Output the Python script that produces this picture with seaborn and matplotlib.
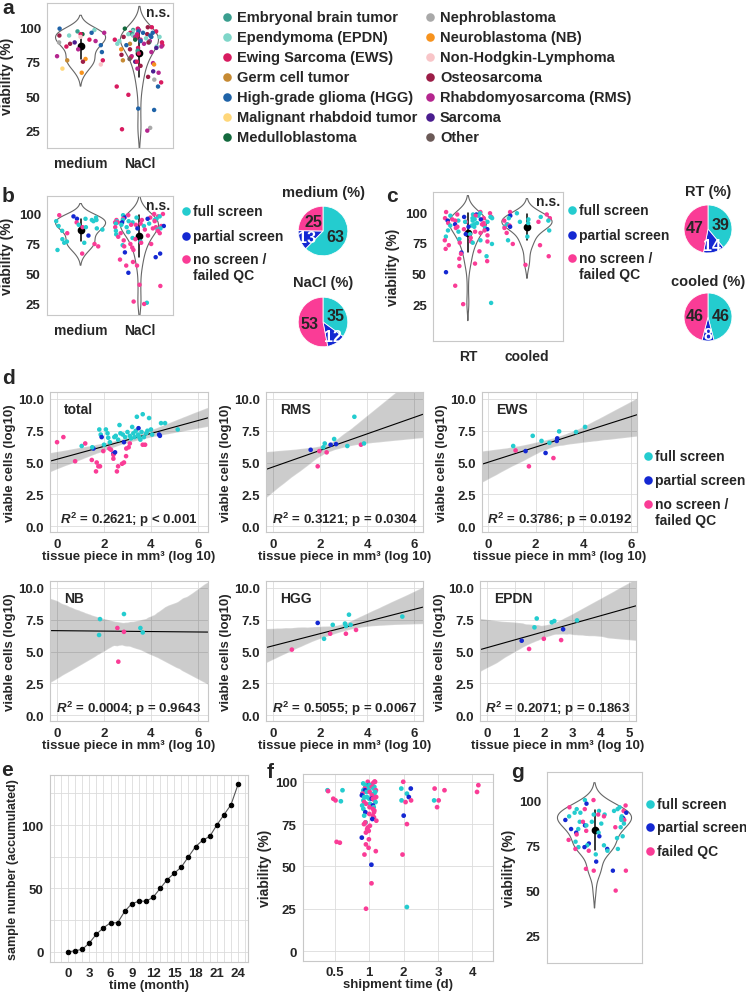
import numpy as np
import pandas as pd
import matplotlib.pyplot as plt
import matplotlib.ticker as mtick
import seaborn as sns

# ─── Data ─────────────────────────────────────────────────────────────────────
tumor_names = ["Embryonal brain tumor", "Ependymoma (EPDN)", "Ewing Sarcoma (EWS)",
               "Germ cell tumor", "High-grade glioma (HGG)", "Malignant rhabdoid tumor",
               "Medulloblastoma", "Nephroblastoma", "Neuroblastoma (NB)",
               "Non-Hodgkin-Lymphoma", "Osteosarcoma", "Rhabdomyosarcoma (RMS)",
               "Sarcoma", "Other"]
tumor_codes = ["EBT", "EPDN", "EWS", "GCT", "HGG", "MRT", "MB",
               "NEPH", "NB", "NHL", "OS", "RMS", "SARC", "OTH"]
tumor_cols = ["#3a9e8f", "#7fd6c9", "#d81b60", "#c68a33", "#1f63a8", "#ffd77a", "#13693d",
              "#a9a9a9", "#f7931e", "#f8c5c8", "#9c1d47", "#b5268f", "#4a1d8f", "#6b5a57"]

# a / b: storage medium
medium_viab = [99, 98, 97, 96, 96, 95, 95, 94, 94, 93,
               91, 90, 89, 89, 88, 87, 86, 84, 82, 79,
               77, 76, 76, 75, 73, 70, 67]
medium_status = "NPFPFFFFFN" "FFNFFFFNPF" "FFFNNFN"
medium_tumor = ["HGG", "EPDN", "EBT", "HGG", "RMS", "MB", "EWS", "OS", "EPDN", "NHL",
                "EWS", "RMS", "SARC", "NEPH", "OS", "HGG", "EWS", "RMS", "HGG", "RMS",
                "NB", "EWS", "GCT", "OS", "NHL", "MRT", "NB"]
nacl_viab = [100, 100, 99, 99, 98, 98, 97, 97, 97, 96,
             96, 96, 95, 95, 95, 95, 94, 94, 94, 93,
             93, 93, 93, 92, 92, 92, 91, 91, 91, 90,
             90, 90, 89, 89, 89, 88, 88, 88, 87, 87,
             86, 86, 85, 85, 84, 84, 83, 82, 81, 80,
             79, 78, 77, 76, 75, 75, 74, 73, 72, 70,
             68, 67, 64, 62, 60, 57, 57, 51, 41, 40,
             27, 26, 25]
nacl_status = ("NNNFNFPFNF" "NPFNFNFNFN" "FNPFNFNFNF" "NPFNNFPNFN"
               "NFNFNNFNNF" "NNFNNNFNNN" "PPPNNNNPNN" "NFN")
nacl_tumor = ["EWS", "OS", "EWS", "MB", "RMS", "EBT", "HGG", "EPDN", "EWS", "HGG",
              "EWS", "HGG", "EPDN", "RMS", "EBT", "OS", "EPDN", "EWS", "HGG", "RMS",
              "EPDN", "OS", "HGG", "EBT", "EWS", "EPDN", "RMS", "MB", "EWS", "EPDN",
              "RMS", "HGG", "EBT", "EWS", "OS", "EPDN", "GCT", "RMS", "HGG", "EWS",
              "RMS", "EPDN", "EWS", "SARC", "NB", "OS", "EBT", "RMS", "EWS", "OS",
              "RMS", "EWS", "OTH", "GCT", "SARC", "EWS", "RMS", "NB", "OS", "RMS",
              "SARC", "RMS", "OS", "NEPH", "EWS", "EWS", "HGG", "EWS", "HGG", "HGG",
              "NEPH", "EWS", "RMS"]
pie_medium = [63, 13, 25]
pie_nacl = [35, 12, 53]

# c: transport temperature
rt_viab = [100, 100, 99, 99, 98, 98, 98, 97, 97, 97,
           96, 96, 96, 95, 95, 95, 95, 94, 94, 94,
           93, 93, 93, 93, 92, 92, 92, 91, 91, 91,
           90, 90, 90, 89, 89, 89, 88, 88, 88, 87,
           87, 86, 86, 85, 85, 84, 84, 83, 82, 82,
           81, 80, 79, 78, 77, 77, 76, 76, 75, 75,
           74, 73, 70, 68, 67, 66, 64, 62, 60, 58,
           56, 51, 40, 26, 25]
rt_status = ("NNFNFNPFNF" "NFPFNFNFPN" "FNFPFNFNFN" "FPNFNFNPFN"
             "FNPNFNFNFP" "NFNFNFNNFN" "FNNNPNFNNN" "NPNFN")
cooled_viab = [100, 99, 98, 97, 96, 95, 95, 94, 93, 93,
               92, 92, 91, 90, 90, 89, 88, 88, 87, 85,
               83, 80, 77, 74, 73, 64, 57]
cooled_status = "NFNPFFNFNF" "FNFNFNPFNF" "NFFNNNN"
pie_rt = [39, 14, 47]
pie_cooled = [46, 8, 46]

# d: tissue size vs viable cells
total_x = [0.0, 0.27, 0.77, 1.05, 1.2, 1.48, 1.55, 1.66, 1.69, 1.76,
           1.8, 1.83, 1.86, 1.9, 1.97, 2.08, 2.18, 2.23, 2.25, 2.4,
           2.4, 2.4, 2.44, 2.47, 2.5, 2.55, 2.6, 2.6, 2.66, 2.7,
           2.77, 2.8, 2.85, 2.85, 2.9, 2.94, 3.0, 3.05, 3.1, 3.15,
           3.2, 3.25, 3.3, 3.35, 3.4, 3.45, 3.47, 3.5, 3.55, 3.6,
           3.65, 3.65, 3.7, 3.75, 3.8, 3.85, 3.92, 4.0, 4.05, 4.35,
           4.38, 4.43, 4.6, 5.14, 2.0, 2.3, 2.15, 3.1, 2.95, 1.5]
total_y = [6.6, 7.0, 5.1, 6.3, 6.5, 5.2, 6.1, 4.3, 5.0, 4.7,
           7.6, 4.7, 7.2, 7.0, 5.9, 7.6, 6.95, 6.1, 6.6, 5.7,
           5.6, 5.3, 7.0, 5.8, 7.1, 4.3, 4.7, 6.8, 7.95, 7.3,
           4.9, 7.2, 5.0, 6.6, 7.0, 5.5, 7.4, 6.2, 7.1, 6.9,
           7.8, 7.3, 7.0, 7.5, 8.6, 7.2, 7.7, 7.0, 6.8, 7.4,
           8.8, 6.4, 7.0, 6.4, 7.3, 7.5, 8.5, 7.6, 7.2, 7.2,
           7.1, 8.1, 8.1, 7.6, 6.4, 6.0, 7.3, 6.5, 6.1, 6.2]
total_s = "NNNFNNPNNN" "FNFPNFFNFP" "NNFPFNNFFF" "NFNPFNFNFF" "FFFFFFPFFF" "FNFNFFFFFP" "PFFFFNFNNF"
rms_x = [1.6, 1.9, 1.97, 2.14, 2.2, 2.28, 2.45, 2.6, 2.68, 3.16, 3.46, 3.74, 3.87]
rms_y = [6.0, 4.7, 5.9, 6.2, 6.5, 5.8, 6.4, 6.85, 6.45, 6.3, 8.6, 6.4, 6.5]
rms_s = "PNNFFNPFPFFNF"
ews_x = [1.06, 1.16, 1.58, 1.72, 1.88, 2.25, 2.42, 2.58, 2.75, 2.89, 2.91, 2.99, 3.7, 4.08]
ews_y = [6.3, 5.95, 5.9, 4.7, 7.1, 6.7, 5.75, 6.55, 5.35, 6.7, 6.9, 7.45, 7.4, 7.8]
ews_s = "FNPNFFPFNPPFFF"
nb_x = [1.83, 1.79, 2.57, 2.61, 2.85, 2.85, 3.55, 3.65]
nb_y = [7.55, 6.3, 6.85, 4.2, 7.95, 6.55, 6.85, 6.5]
nb_s = "FFNNFNFF"
hgg_x = [0.8, 1.9, 2.17, 2.43, 2.54, 3.06, 3.1, 3.1, 3.23, 3.3, 3.53, 5.5]
hgg_y = [5.15, 7.25, 6.0, 6.4, 7.1, 7.2, 7.0, 6.4, 7.9, 7.1, 6.7, 7.75]
hgg_s = "NPFNFFFNFFNF"
epdn_x = [1.22, 1.48, 1.67, 1.75, 2.0, 2.28, 2.37, 2.61, 2.68, 3.17]
epdn_y = [5.85, 5.2, 6.9, 7.6, 6.0, 7.3, 7.4, 5.9, 6.75, 7.45]
epdn_s = "PNFFNFFNPF"
d_names = ["total", "RMS", "EWS", "NB", "HGG", "EPDN"]
d_r2 = ["0.2621", "0.3121", "0.3786", "0.0004", "0.5055", "0.2071"]
d_p = ["p < 0.001", "p = 0.0304", "p = 0.0192", "p = 0.9643", "p = 0.0067", "p = 0.1863"]

# e: accumulated samples
e_month = list(range(25))
e_samples = [0, 1, 2, 7, 14, 19, 23, 23, 32, 38, 40, 40, 43, 50, 57, 62, 67, 75, 83, 88,
             91, 100, 108, 116, 132]

# f: shipment time
ship_cats = ["0.5", "1", "2", "3", "4"]
f05_viab = [95, 95, 94.5, 90, 89, 88.5, 64, 64.5]
f05_s = "FFNNNFNN"
f1_viab = [100, 100, 100, 100, 99, 99, 98, 98, 98, 97,
           97, 97, 96, 96, 96, 95, 95, 95, 95, 94,
           94, 94, 93, 93, 93, 92, 92, 92, 91, 91,
           91, 90, 90, 90, 89, 89, 88, 88, 87, 87,
           86, 86, 85, 85, 84, 84, 83, 82, 82, 81,
           80, 80, 79, 78, 77, 76, 76, 75, 74, 73,
           72, 71, 70, 67, 66, 63, 61, 59, 57, 51,
           40, 25]
f1_s = ("NNNNNFFPFF" "FNFFNFFPNF" "FNFFNFPNFF" "NFPNFNFNFN"
        "PFNFNFNPNN" "FNNPNFNNNN" "NNNPNNNNNP" "NN")
f2_viab = [100, 96, 96, 93, 91, 89, 89, 88, 80, 75, 57, 26]
f2_s = "NPFFPFNNPNNF"
f3_viab = [96, 95, 89, 89, 85]
f3_s = "NNNFN"
f4_viab = [98, 94]
f4_s = "NN"

# g: viability overall
g_viab = [100, 100, 98, 97, 96, 96, 95, 95, 95, 94,
          94, 94, 93, 93, 93, 92, 92, 92, 91, 91,
          91, 90, 90, 90, 89, 89, 89, 88, 88, 88,
          87, 87, 86, 86, 85, 85, 84, 84, 83, 82,
          82, 81, 80, 80, 79, 78, 77, 76, 75, 75,
          74, 74, 73, 73, 73, 72, 72, 70, 66, 62,
          61, 61, 61, 50]
g_s = ("NFPNNFFFNF" "FNPFFFNFFN" "FFPFNPFFNF" "FFPFFNPFNP"
       "FNPFFNFPFF" "FPNFPNFFPN" "NNPN")

# ─── Style ────────────────────────────────────────────────────────────────────
W, H = 746, 995
FULL, PART, NOSC = "#24CCCF", "#1428D2", "#FA3C96"
status_pal = {"F": FULL, "P": PART, "N": NOSC}
tumor_pal = dict(zip(tumor_codes, tumor_cols))

sns.set_theme(style="white")
plt.rcParams["font.family"] = ["Liberation Sans", "DejaVu Sans"]
plt.rcParams["font.weight"] = "bold"
plt.rcParams["axes.labelweight"] = "bold"
plt.rcParams["mathtext.fontset"] = "custom"
plt.rcParams["mathtext.it"] = "Liberation Sans:italic:bold"
plt.rcParams["mathtext.rm"] = "Liberation Sans:bold"
plt.rcParams["mathtext.bf"] = "Liberation Sans:bold"
np.random.seed(7)

fig = plt.figure(figsize=(W / 100, H / 100), dpi=100)


def px_axes(l, t, r, b):
    return fig.add_axes([l / W, 1 - b / H, (r - l) / W, (b - t) / H])


def frame(ax, tick_fs=9):
    for s in ax.spines.values():
        s.set_color("#c8c8c8")
        s.set_linewidth(0.8)
    ax.tick_params(axis="both", length=2.5, width=0.6, color="#555555", labelsize=tick_fs, pad=2)


def violin_panel(ax, df, x, order, hue, pal, ylim, xlim):
    sns.violinplot(data=df, x=x, y="viab", order=order, fill=False, inner=None,
                   color="#666666", linewidth=0.8, width=0.85, ax=ax)
    sns.stripplot(data=df, x=x, y="viab", order=order, hue=hue, palette=pal,
                  jitter=0.42, size=3.2, linewidth=0, legend=False, ax=ax)
    sns.pointplot(data=df, x=x, y="viab", order=order, errorbar="sd", color="black",
                  linestyle="none", markersize=3.5, err_kws={"linewidth": 1.1}, ax=ax)
    ax.set_xlim(*xlim)
    ax.set_ylim(*ylim)
    ax.set_yticks([25, 50, 75, 100])
    ax.set_xlabel("")
    ax.set_ylabel("viability (%)", fontsize=10, labelpad=3)
    frame(ax, tick_fs=9.5)
    ax.tick_params(axis="x", length=0, labelsize=10, pad=6)
    ax.text(0.98, 0.985, "n.s.", transform=ax.transAxes, ha="right", va="top", fontsize=10)


ov = fig.add_axes([0, 0, 1, 1], zorder=10)
ov.set_xlim(0, W)
ov.set_ylim(H, 0)
ov.axis("off")


def status_legend(x, ys, labels):
    for yy, lab, col in zip(ys, labels, [FULL, PART, NOSC]):
        ov.scatter([x], [yy], s=38, color=col, linewidth=0)
        ov.text(x + 7, yy - 7, lab, ha="left", va="top", fontsize=10, linespacing=1.15)


def pie(cx, cy, r, vals, title, title_y):
    ax = px_axes(cx - r, cy - r, cx + r, cy + r)
    wedges, texts = ax.pie(vals, colors=[FULL, PART, NOSC], startangle=90, counterclock=False,
                           labels=[str(v) for v in vals], labeldistance=0.55,
                           wedgeprops={"edgecolor": "white", "linewidth": 0.6},
                           textprops={"fontsize": 11.5, "fontweight": "bold", "ha": "center",
                                      "va": "center"})
    # small blue slice: push its number further out so it sits inside the wedge
    bx, by = texts[1].get_position()
    texts[1].set_position((bx * 1.3, by * 1.3))
    texts[1].set_color("white")
    ov.text(cx, title_y, title, ha="center", va="center", fontsize=10.5)


# ─── a ────────────────────────────────────────────────────────────────────────
df_ab = pd.DataFrame({
    "cond": ["medium"] * len(medium_viab) + ["NaCl"] * len(nacl_viab),
    "viab": medium_viab + nacl_viab,
    "tumor": medium_tumor + nacl_tumor,
    "status": list(medium_status) + list(nacl_status),
})
ax = px_axes(47, 4, 173, 149)
violin_panel(ax, df_ab, "cond", ["medium", "NaCl"], "tumor", tumor_pal, (12.4, 117.6), (-0.57, 1.57))

for i, (name, col) in enumerate(zip(tumor_names, tumor_cols)):
    cx = 227 if i < 7 else 430
    cy = 18 + 20 * (i % 7)
    ov.scatter([cx], [cy], s=38, color=col, linewidth=0)
    ov.text(cx + 10, cy, name, ha="left", va="center", fontsize=10.5)

# ─── b ────────────────────────────────────────────────────────────────────────
ax = px_axes(47, 197, 173, 316)
violin_panel(ax, df_ab, "cond", ["medium", "NaCl"], "status", status_pal, (15.8, 115), (-0.57, 1.57))
labels3 = ["full screen", "partial screen", "no screen /\nfailed QC"]
status_legend(186, [212, 237, 260], labels3)
pie(323, 232, 31, pie_medium, "medium (%)", 193)
pie(323, 323, 31, pie_nacl, "NaCl (%)", 283)

# ─── c ────────────────────────────────────────────────────────────────────────
df_c = pd.DataFrame({
    "temp": ["RT"] * len(rt_viab) + ["cooled"] * len(cooled_viab),
    "viab": rt_viab + cooled_viab,
    "status": list(rt_status) + list(cooled_status),
})
ax = px_axes(433, 193, 563, 342)
violin_panel(ax, df_c, "temp", ["RT", "cooled"], "status", status_pal, (-5, 116.3), (-0.59, 1.61))
status_legend(572, [211, 236, 259], labels3)
pie(708, 230, 30, pie_rt, "RT (%)", 192)
pie(708, 318, 30, pie_cooled, "cooled (%)", 282)

# ─── d ────────────────────────────────────────────────────────────────────────
d_data = [(total_x, total_y, total_s), (rms_x, rms_y, rms_s), (ews_x, ews_y, ews_s),
          (nb_x, nb_y, nb_s), (hgg_x, hgg_y, hgg_s), (epdn_x, epdn_y, epdn_s)]
d_boxes = [(50, 393, 208, 533), (266, 393, 423, 533), (482, 393, 637, 533),
           (50, 582, 208, 722), (266, 582, 423, 722), (480, 582, 636, 722)]
d_xlims = [(-0.3, 6.43), (-0.3, 6.38), (-0.25, 6.26), (-0.3, 6.43), (-0.3, 6.38), (-0.25, 5.25)]
for k in range(6):
    xs, ys, ss = d_data[k]
    ax = px_axes(*d_boxes[k])
    ax.set_xlim(*d_xlims[k])
    sns.regplot(x=np.array(xs), y=np.array(ys), scatter=False, truncate=False, ci=95,
                seed=3, color="black", line_kws={"linewidth": 0.8}, ax=ax)
    for coll in ax.collections:
        coll.set_alpha(0.2)
    sns.scatterplot(x=xs, y=ys, hue=list(ss), palette=status_pal, s=11, linewidth=0,
                    legend=False, ax=ax, zorder=3)
    ax.set_xlim(*d_xlims[k])
    ax.set_ylim(-0.47, 10.55)
    ax.set_yticks([0, 2.5, 5, 7.5, 10])
    ax.yaxis.set_major_formatter(mtick.FormatStrFormatter("%.1f"))
    ax.set_xticks(range(6) if k == 5 else [0, 2, 4, 6])
    ax.grid(True, color="#dcdcdc", linewidth=0.6)
    frame(ax, tick_fs=9.5)
    ax.set_xlabel("tissue piece in mm³ (log 10)", fontsize=9.5, labelpad=0)
    ax.set_ylabel("viable cells (log10)", fontsize=9.5, labelpad=1)
    ax.text(0.09, 0.93, d_names[k], transform=ax.transAxes, ha="left", va="top", fontsize=10)
    ax.text(0.5, 0.03, r"$R^2$ = " + d_r2[k] + "; " + d_p[k], transform=ax.transAxes,
            ha="center", va="bottom", fontsize=9.5)
status_legend(648, [457, 481, 505], labels3)

# ─── e ────────────────────────────────────────────────────────────────────────
ax = px_axes(50, 776, 248, 963)
sns.lineplot(x=e_month, y=e_samples, color="#555555", linewidth=0.8, marker="o",
             markersize=3.2, markerfacecolor="black", markeredgecolor="black", ax=ax)
ax.set_xlim(-2.54, 25.4)
ax.set_ylim(-7.9, 139.4)
ax.set_xticks(range(0, 25, 3))
ax.set_yticks([0, 50, 100])
ax.xaxis.set_minor_locator(mtick.MultipleLocator(1))
ax.yaxis.set_minor_locator(mtick.MultipleLocator(25))
ax.grid(True, which="both", color="#dcdcdc", linewidth=0.6)
frame(ax, tick_fs=9.5)
ax.tick_params(which="minor", length=0)
ax.tick_params(axis="x", pad=1)
ax.set_xlabel("time (month)", fontsize=9.5, labelpad=0)
ax.set_ylabel("sample number (accumulated)", fontsize=9, labelpad=2)

# ─── f ────────────────────────────────────────────────────────────────────────
df_f = pd.DataFrame({
    "ship": ["0.5"] * len(f05_viab) + ["1"] * len(f1_viab) + ["2"] * len(f2_viab)
            + ["3"] * len(f3_viab) + ["4"] * len(f4_viab),
    "viab": f05_viab + f1_viab + f2_viab + f3_viab + f4_viab,
    "status": list(f05_s + f1_s + f2_s + f3_s + f4_s),
})
ax = px_axes(303, 775, 493, 962)
sns.stripplot(data=df_f, x="ship", y="viab", order=ship_cats, hue="status", palette=status_pal,
              jitter=0.22, size=3.4, linewidth=0, legend=False, ax=ax)
ax.set_xlim(-0.93, 4.6)
ax.set_ylim(-5.9, 104.6)
ax.set_yticks([0, 25, 50, 75, 100])
ax.grid(True, color="#dcdcdc", linewidth=0.6)
frame(ax, tick_fs=9.5)
ax.tick_params(axis="x", pad=1)
ax.set_xlabel("shipment time (d)", fontsize=9.5, labelpad=0)
ax.set_ylabel("viability (%)", fontsize=10, labelpad=2)

# ─── g ────────────────────────────────────────────────────────────────────────
df_g = pd.DataFrame({"grp": ["all"] * len(g_viab), "viab": g_viab, "status": list(g_s)})
ax = px_axes(547, 773, 642, 964)
sns.violinplot(data=df_g, x="grp", y="viab", fill=False, inner=None, color="#666666",
               linewidth=0.8, width=0.78, ax=ax)
sns.stripplot(data=df_g, x="grp", y="viab", hue="status", palette=status_pal, jitter=0.34,
              size=3.2, linewidth=0, legend=False, ax=ax)
sns.pointplot(data=df_g, x="grp", y="viab", errorbar="sd", color="black", linestyle="none",
              markersize=3.5, err_kws={"linewidth": 1.1}, ax=ax)
ax.set_xlim(-0.5, 0.5)
ax.set_ylim(10, 115.5)
ax.set_yticks([25, 50, 75, 100])
ax.set_xticks([])
ax.set_xlabel("")
ax.set_ylabel("viability (%)", fontsize=10, labelpad=2)
frame(ax, tick_fs=9.5)
status_legend(650, [805, 828, 852], ["full screen", "partial screen", "failed QC"])

# ─── panel letters ────────────────────────────────────────────────────────────
for letter, lx, ly in [("a", 2, 9), ("b", 2, 196), ("c", 386, 197), ("d", 2, 378),
                       ("e", 1, 771), ("f", 267, 773), ("g", 511, 773)]:
    ov.text(lx, ly, letter, ha="left", va="center", fontsize=15)

fig.savefig("out.png", dpi=100)
